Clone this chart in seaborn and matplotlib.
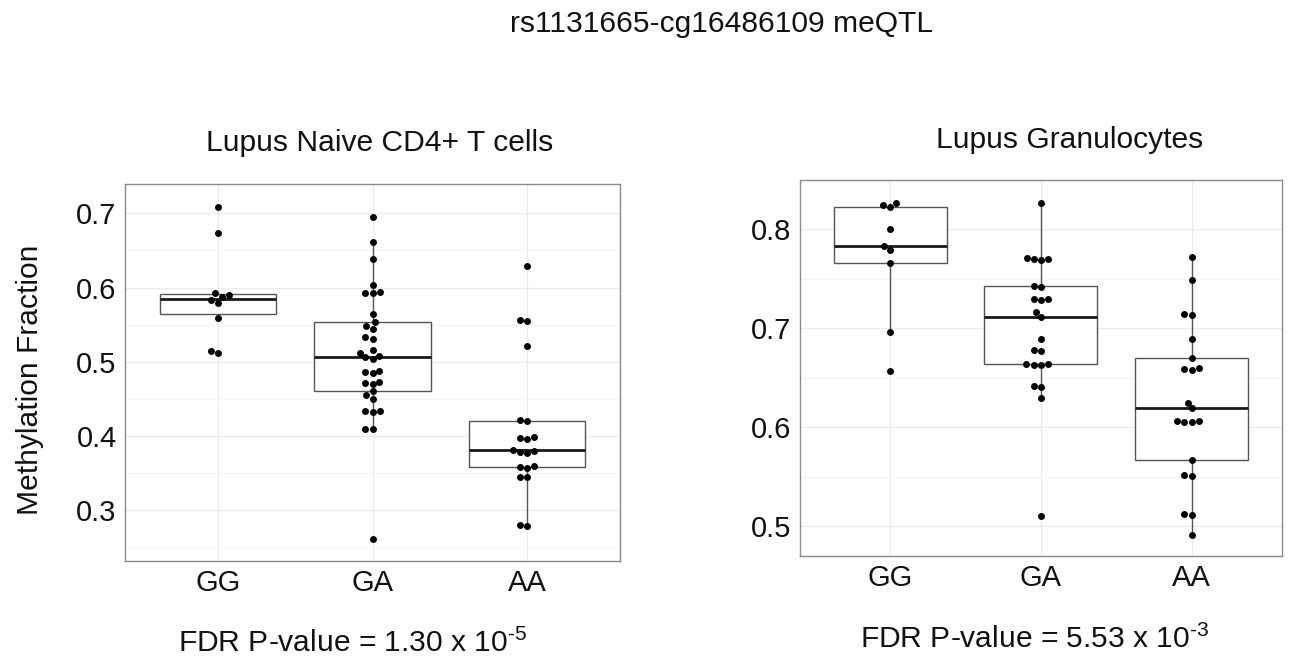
import numpy as np
import pandas as pd
import matplotlib
matplotlib.use("Agg")
import matplotlib.pyplot as plt
from matplotlib.ticker import MultipleLocator
import seaborn as sns

# Genotype order on the x axis
genotypes = ["GG", "GA", "AA"]

# Lupus naive CD4+ T cells, methylation fraction per sample
cd4_gg = [0.709, 0.674, 0.592, 0.590, 0.587, 0.583, 0.579, 0.559, 0.514, 0.512]
cd4_ga = [0.6946, 0.661, 0.639, 0.603, 0.594, 0.593, 0.592, 0.564,
          0.553, 0.548, 0.544, 0.533, 0.531,
          0.516, 0.512, 0.508, 0.506, 0.504,
          0.488, 0.486, 0.485, 0.473, 0.472, 0.470,
          0.460, 0.455, 0.450, 0.434, 0.433, 0.432,
          0.410, 0.409, 0.261]
cd4_aa = [0.629, 0.556, 0.555, 0.521, 0.422, 0.420,
          0.398, 0.397, 0.396, 0.381, 0.380, 0.378, 0.377,
          0.359, 0.358, 0.357, 0.345, 0.344, 0.280, 0.279]

# Lupus granulocytes, methylation fraction per sample
gran_gg = [0.826, 0.824, 0.822, 0.800, 0.783, 0.779, 0.766, 0.696, 0.657]
gran_ga = [0.8265, 0.771, 0.770, 0.770, 0.769, 0.743, 0.742,
           0.730, 0.730, 0.729, 0.716, 0.711, 0.689, 0.678, 0.677,
           0.664, 0.664, 0.663, 0.663, 0.642, 0.641, 0.630, 0.510]
gran_aa = [0.772, 0.749, 0.714, 0.713, 0.689, 0.670, 0.660, 0.659, 0.658,
           0.625, 0.619, 0.606, 0.606, 0.605, 0.605, 0.567,
           0.552, 0.551, 0.512, 0.511, 0.491]

main_title = "rs1131665-cg16486109 meQTL"
panel_titles = ["Lupus Naive CD4+ T cells", "Lupus Granulocytes"]
fdr_labels = [r"FDR P-value = 1.30 x 10$^{\text{-}5}$",
              r"FDR P-value = 5.53 x 10$^{\text{-}3}$"]


def long_df(groups):
    rows = []
    for g, vals in zip(genotypes, groups):
        for v in vals:
            rows.append((g, v))
    return pd.DataFrame(rows, columns=["genotype", "meth"])


df_cd4 = long_df([cd4_gg, cd4_ga, cd4_aa])
df_gran = long_df([gran_gg, gran_ga, gran_aa])

sns.set_theme(style="white")
plt.rcParams["font.family"] = ["Liberation Sans", "DejaVu Sans"]
plt.rcParams["mathtext.fontset"] = "custom"
plt.rcParams["mathtext.rm"] = "Liberation Sans"
plt.rcParams["mathtext.default"] = "regular"
plt.rcParams["text.color"] = "#111111"

fig = plt.figure(figsize=(13.02, 6.63), dpi=100)
ax1 = fig.add_axes([0.0960, 0.1538, 0.3802, 0.5686])
ax2 = fig.add_axes([0.6144, 0.1614, 0.3702, 0.5671])

panels = [
    (ax1, df_cd4, (0.2314, 0.7395)),
    (ax2, df_gran, (0.470, 0.8497)),
]

for ax, df, ylim in panels:
    sns.boxplot(data=df, x="genotype", y="meth", order=genotypes, ax=ax,
                width=0.75, color="white", linecolor="#555555", linewidth=1.0,
                showfliers=False, showcaps=False,
                medianprops={"color": "#1a1a1a", "linewidth": 2.0})
    sns.swarmplot(data=df, x="genotype", y="meth", order=genotypes, ax=ax,
                  color="black", size=5.0, zorder=3)
    ax.set_xlim(-0.6, 2.6)
    ax.set_ylim(*ylim)
    ax.yaxis.set_major_locator(MultipleLocator(0.1))
    ax.yaxis.set_minor_locator(MultipleLocator(0.05))
    ax.grid(True, which="major", color="#ebebeb", linewidth=1.0)
    ax.grid(True, which="minor", axis="y", color="#f4f4f4", linewidth=0.8)
    ax.set_axisbelow(True)
    for s in ax.spines.values():
        s.set_color("#8a8a8a")
        s.set_linewidth(1.0)
    ax.tick_params(axis="both", which="major", labelsize=21, length=3,
                   color="#8a8a8a", labelcolor="#111111", pad=3)
    ax.tick_params(axis="both", which="minor", length=0)
    ax.set_xlabel("")
    ax.set_ylabel("")

fig.text(0.5545, 0.9638, main_title, ha="center", va="center", fontsize=21.6)
fig.text(0.2919, 0.7843, panel_titles[0], ha="center", va="center", fontsize=21.6)
fig.text(0.8218, 0.7890, panel_titles[1], ha="center", va="center", fontsize=21.6)
fig.text(0.2711, 0.0300, fdr_labels[0], ha="center", va="center", fontsize=21.6)
fig.text(0.7950, 0.0360, fdr_labels[1], ha="center", va="center", fontsize=21.6)
fig.text(0.0230, 0.4270, "Methylation Fraction", ha="center", va="center",
         rotation=90, fontsize=21.6)

fig.savefig("out.png", dpi=100, facecolor="white")
